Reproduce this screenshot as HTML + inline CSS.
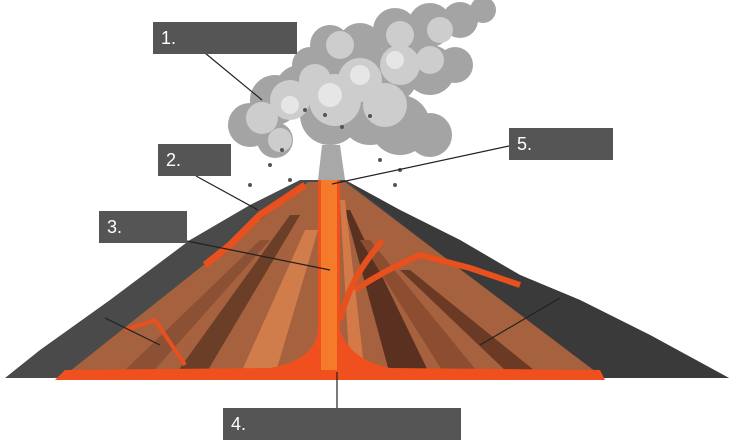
<!DOCTYPE html>
<html><head><meta charset="utf-8"><style>
html,body{margin:0;padding:0;background:#fff;width:729px;height:448px;overflow:hidden}
.lb{position:absolute;background:#555;color:#fff;font-family:"Liberation Sans",sans-serif;font-size:18px;line-height:32px;padding-left:8px;box-sizing:border-box;height:32px}
</style></head><body>
<svg width="729" height="448" style="position:absolute;left:0;top:0">
<!-- cloud -->
<g fill="#a4a4a4">
<circle cx="250" cy="125" r="22"/><circle cx="275" cy="100" r="25"/><circle cx="300" cy="90" r="25"/>
<circle cx="330" cy="45" r="20"/><circle cx="360" cy="45" r="22"/><circle cx="395" cy="30" r="22"/>
<circle cx="430" cy="25" r="22"/><circle cx="460" cy="20" r="18"/><circle cx="483" cy="10" r="13"/>
<circle cx="345" cy="80" r="30"/><circle cx="390" cy="75" r="28"/><circle cx="430" cy="70" r="25"/>
<circle cx="455" cy="65" r="18"/><circle cx="400" cy="125" r="30"/><circle cx="430" cy="135" r="22"/>
<circle cx="370" cy="115" r="30"/><circle cx="330" cy="115" r="30"/><circle cx="275" cy="140" r="18"/>
<circle cx="410" cy="50" r="22"/><circle cx="310" cy="65" r="18"/>
</g>
<g fill="#cdcdcd">
<circle cx="262" cy="118" r="16"/><circle cx="290" cy="100" r="20"/><circle cx="335" cy="100" r="26"/>
<circle cx="360" cy="80" r="22"/><circle cx="400" cy="65" r="20"/><circle cx="340" cy="45" r="14"/>
<circle cx="400" cy="35" r="14"/><circle cx="440" cy="30" r="13"/><circle cx="280" cy="140" r="12"/>
<circle cx="385" cy="105" r="22"/><circle cx="430" cy="60" r="14"/><circle cx="315" cy="80" r="16"/>
</g>
<g fill="#e6e6e6">
<circle cx="330" cy="95" r="12"/><circle cx="360" cy="75" r="10"/><circle cx="290" cy="105" r="9"/><circle cx="395" cy="60" r="9"/>
</g>
<g fill="#555">
<circle cx="305" cy="110" r="2"/><circle cx="325" cy="115" r="2"/><circle cx="342" cy="127" r="2"/><circle cx="370" cy="116" r="2"/>
<circle cx="282" cy="150" r="2"/><circle cx="270" cy="165" r="2"/><circle cx="380" cy="160" r="2"/><circle cx="395" cy="185" r="2"/>
<circle cx="290" cy="180" r="2"/><circle cx="250" cy="185" r="2"/><circle cx="400" cy="170" r="2"/>
</g>
<path d="M318,180 L322,145 L340,145 L345,180Z" fill="#a8a8a8"/>
<!-- outer mountain -->
<path d="M5,378 L40,350 L110,300 L190,240 L250,205 L300,180 L345,180 L400,210 L460,240 L520,275 L580,300 L650,335 L729,378Z" fill="#4a4a4a"/>
<path d="M345,180 L400,210 L460,240 L520,275 L580,300 L650,335 L729,378 L600,378Z" fill="#3a3a3a"/>
<!-- cross section -->
<path d="M65,375 L308,182 L345,182 L600,375Z" fill="#a6613f"/>
<path d="M175,375 L290,215 L300,215 L205,375Z" fill="#6b3e27"/>
<path d="M240,375 L305,230 L318,230 L275,375Z" fill="#d17d4b"/>
<path d="M120,375 L260,240 L270,240 L150,375Z" fill="#8c5034"/>
<path d="M345,210 L350,210 L430,375 L390,375Z" fill="#5a3020"/>
<path d="M360,240 L370,240 L480,375 L445,375Z" fill="#8c4d30"/>
<path d="M340,200 L345,200 L365,375 L350,375Z" fill="#d47a48"/>
<path d="M400,270 L410,270 L540,375 L510,375Z" fill="#6b3a24"/>
<!-- lava -->
<path d="M318,180 L340,180 L340,330 Q350,360 390,368 L600,370 L605,380 L55,380 L65,370 L270,368 Q315,360 318,330Z" fill="#f0501e"/>
<rect x="321" y="180" width="16" height="190" fill="#f57a2a"/>
<path d="M340,320 Q350,280 375,250 L382,240" stroke="#e8501e" stroke-width="6" fill="none"/>
<path d="M355,290 Q385,270 420,255 L470,268 L520,285" stroke="#e8501e" stroke-width="6" fill="none"/>
<path d="M185,365 L155,320 L125,330" stroke="#e8501e" stroke-width="4" fill="none"/>
<path d="M305,185 L260,215 L230,245 L205,265" stroke="#e8501e" stroke-width="7" fill="none"/>
<!-- leader lines -->
<g stroke="#222" stroke-width="1.2">
<line x1="205" y1="53" x2="262" y2="100"/>
<line x1="196" y1="176" x2="258" y2="210"/>
<line x1="187" y1="241" x2="330" y2="270"/>
<line x1="337" y1="372" x2="337" y2="408"/>
<line x1="509" y1="146" x2="332" y2="184"/>
<line x1="560" y1="298" x2="480" y2="345"/>
<line x1="105" y1="318" x2="160" y2="345"/>
</g>
</svg>
<div class="lb" style="left:153px;top:22px;width:144px">1.</div>
<div class="lb" style="left:158px;top:144px;width:73px">2.</div>
<div class="lb" style="left:99px;top:211px;width:88px">3.</div>
<div class="lb" style="left:223px;top:408px;width:238px">4.</div>
<div class="lb" style="left:509px;top:128px;width:104px">5.</div>
</body></html>
